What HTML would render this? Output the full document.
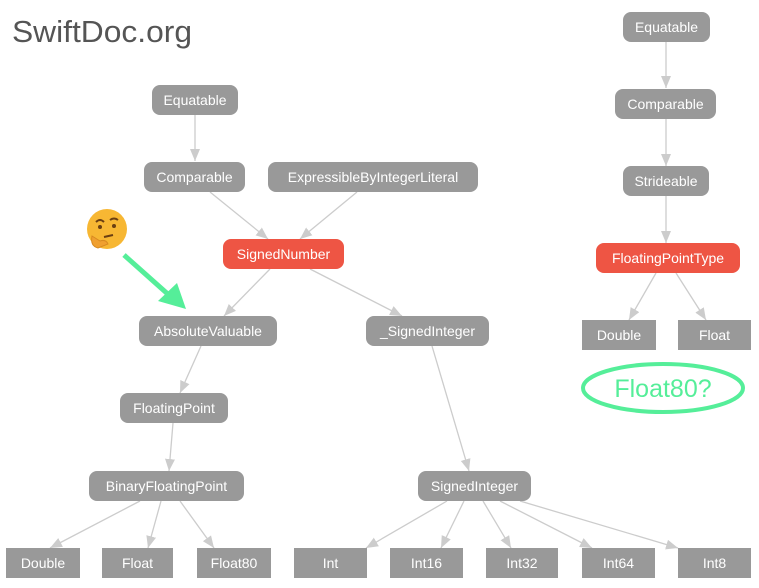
<!DOCTYPE html>
<html><head><meta charset="utf-8"><style>
html,body{margin:0;padding:0;background:#fff;}
svg{display:block;}
text{font-family:"Liberation Sans",sans-serif;}
</style></head><body>
<svg width="759" height="588" viewBox="0 0 759 588" xmlns="http://www.w3.org/2000/svg">
<defs>
<marker id="a" viewBox="0 0 12 10" refX="12" refY="5" markerWidth="12" markerHeight="10" markerUnits="userSpaceOnUse" orient="auto">
<path d="M0,0 L12,5 L0,10 z" fill="#cccccc"/>
</marker>
</defs>
<text x="12" y="42" font-size="31" fill="#555" textLength="180" lengthAdjust="spacingAndGlyphs">SwiftDoc.org</text>

<g stroke="#cccccc" stroke-width="1.3" fill="none" marker-end="url(#a)">
<line x1="195" y1="115" x2="195" y2="161"/>
<line x1="210" y1="192" x2="268" y2="239"/>
<line x1="357" y1="192" x2="300" y2="239"/>
<line x1="270" y1="269" x2="224" y2="316"/>
<line x1="310" y1="269" x2="402" y2="316"/>
<line x1="201" y1="346" x2="180" y2="393"/>
<line x1="173" y1="423" x2="169" y2="471"/>
<line x1="432" y1="346" x2="469" y2="471"/>
<line x1="140" y1="501" x2="50" y2="548"/>
<line x1="161" y1="501" x2="148" y2="548"/>
<line x1="180" y1="501" x2="214" y2="548"/>
<line x1="447" y1="501" x2="366" y2="548"/>
<line x1="464" y1="501" x2="441" y2="548"/>
<line x1="483" y1="501" x2="511" y2="548"/>
<line x1="500" y1="501" x2="592" y2="548"/>
<line x1="520" y1="501" x2="678" y2="548"/>
<line x1="666" y1="42" x2="666" y2="88"/>
<line x1="666" y1="119" x2="666" y2="166"/>
<line x1="666" y1="196" x2="666" y2="243"/>
<line x1="656" y1="273" x2="629" y2="320"/>
<line x1="676" y1="273" x2="706" y2="320"/>
</g>

<g fill="#999">
<rect x="152" y="85" width="86" height="30" rx="8"/>
<rect x="144" y="162" width="101" height="30" rx="8"/>
<rect x="268" y="162" width="210" height="30" rx="8"/>
<rect x="139" y="316" width="138" height="30" rx="8"/>
<rect x="366" y="316" width="123" height="30" rx="8"/>
<rect x="120" y="393" width="108" height="30" rx="8"/>
<rect x="89" y="471" width="155" height="30" rx="8"/>
<rect x="418" y="471" width="113" height="30" rx="8"/>
<rect x="623" y="12" width="87" height="30" rx="8"/>
<rect x="615" y="89" width="101" height="30" rx="8"/>
<rect x="623" y="166" width="86" height="30" rx="8"/>
<rect x="6" y="548" width="74" height="30"/>
<rect x="102" y="548" width="71" height="30"/>
<rect x="197" y="548" width="74" height="30"/>
<rect x="294" y="548" width="73" height="30"/>
<rect x="390" y="548" width="73" height="30"/>
<rect x="486" y="548" width="72" height="30"/>
<rect x="582" y="548" width="73" height="30"/>
<rect x="678" y="548" width="73" height="30"/>
<rect x="582" y="320" width="74" height="30"/>
<rect x="678" y="320" width="73" height="30"/>
</g>
<g fill="#ee5544">
<rect x="223" y="239" width="121" height="30" rx="8"/>
<rect x="596" y="243" width="144" height="30" rx="8"/>
</g>

<g fill="#fff" font-size="14" text-anchor="middle">
<text x="195" y="105">Equatable</text>
<text x="194.5" y="182">Comparable</text>
<text x="373" y="182">ExpressibleByIntegerLiteral</text>
<text x="283.5" y="259">SignedNumber</text>
<text x="208" y="336">AbsoluteValuable</text>
<text x="427.5" y="336">_SignedInteger</text>
<text x="174" y="413">FloatingPoint</text>
<text x="166.5" y="491">BinaryFloatingPoint</text>
<text x="474.5" y="491">SignedInteger</text>
<text x="666.5" y="32">Equatable</text>
<text x="665.5" y="109">Comparable</text>
<text x="666" y="186">Strideable</text>
<text x="668" y="263">FloatingPointType</text>
<text x="43" y="568">Double</text>
<text x="137.5" y="568">Float</text>
<text x="234" y="568">Float80</text>
<text x="330.5" y="568">Int</text>
<text x="426.5" y="568">Int16</text>
<text x="522" y="568">Int32</text>
<text x="618.5" y="568">Int64</text>
<text x="714.5" y="568">Int8</text>
<text x="619" y="340">Double</text>
<text x="714.5" y="340">Float</text>
</g>

<ellipse cx="663" cy="388" rx="80" ry="24" fill="none" stroke="#55ee99" stroke-width="4"/>
<text x="663" y="397" font-size="25" fill="#55ee99" text-anchor="middle">Float80?</text>

<line x1="124" y1="255" x2="170" y2="296" stroke="#55ee99" stroke-width="5"/>
<path d="M186,309 L158,301 L177,283 z" fill="#55ee99"/>

<circle cx="107" cy="229" r="20" fill="#f7b733"/>
<path d="M96,222 q4,-4 8,0 M110,220 q4,-3 8,0" stroke="#6b3f12" stroke-width="2" fill="none"/>
<circle cx="100" cy="227" r="2" fill="#6b3f12"/>
<circle cx="114" cy="226" r="2" fill="#6b3f12"/>
<path d="M104,237 l9,-2" stroke="#6b3f12" stroke-width="2"/>
<path d="M92,236 q-2,10 6,12 l10,-4 q-2,-5 -8,-3 z" fill="#f0a030" stroke="#d88a20" stroke-width="1"/>
</svg>
</body></html>
